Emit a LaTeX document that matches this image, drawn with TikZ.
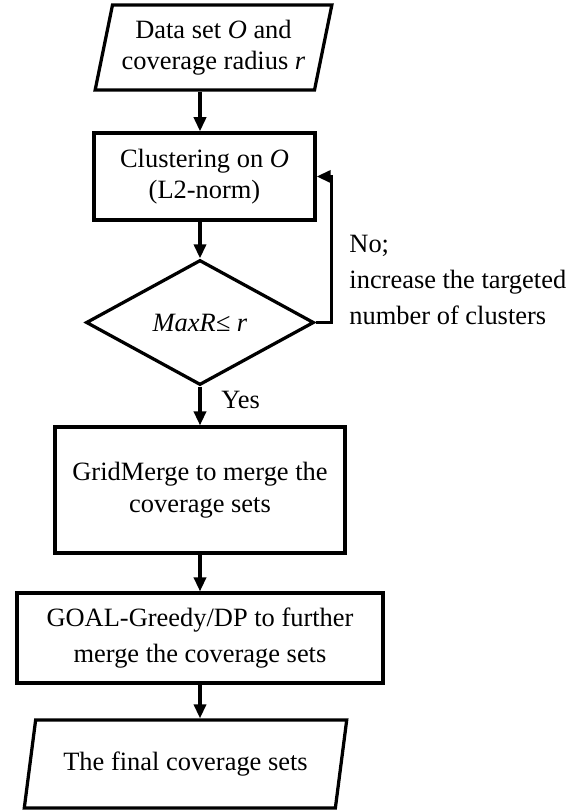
\documentclass[tikz,border=0pt]{standalone}
\usepackage{fontspec}
\setmainfont{Liberation Serif}
\usetikzlibrary{shapes.geometric,arrows.meta,positioning}

\begin{document}
\begin{tikzpicture}[x=0.4615pt, y=-0.4615pt,
        font=\fontsize{12.2}{14.5}\selectfont,
        box/.style={draw, rectangle, align=center, line width=1.5pt, inner sep=2pt},
        para/.style={draw, trapezium, trapezium stretches=true, align=center, line width=1.5pt, inner sep=1pt},
        cond/.style={draw, diamond, line width=1.5pt, inner sep=0pt},
        arr/.style={-{Triangle[length=6.5pt, width=5.6pt]}, line width=1.5pt}]
        \useasboundingbox (0,0) rectangle (570,811);
        \node[para, trapezium left angle=74.9, trapezium right angle=105.1, minimum width=109.4pt, minimum height=39.2pt] (data) at (213.5,47.5) {Data set \textit{O} and\\coverage radius \textit{r}};
        \node[box, minimum width=102pt, minimum height=40.2pt] (clust) at (204.5,176.5) {Clustering on \textit{O}\\(L2-norm)};
        \node[cond, minimum width=105.2pt, minimum height=57.7pt] (dec) at (200,322.5) {\textit{MaxR≤ r}};
        \node[box, minimum width=133.8pt, minimum height=58.1pt] (grid) at (200,490) {GridMerge to merge the\\coverage sets};
        \node[box, minimum width=169pt, minimum height=41.5pt] (goal) at (200,638) {GOAL-Greedy/DP to further\\[2pt]merge the coverage sets};
        \node[para, trapezium left angle=71.8, trapezium right angle=108.2, minimum width=149pt, minimum height=40.6pt] (final) at (185.5,764) {The final coverage sets};
        % branch labels
        \node[anchor=north west, align=left, inner sep=0pt, font=\fontsize{12.2}{16.6}\selectfont] (nolab) at (349,235) {No;\\increase the targeted\\number of clusters};
        \node[anchor=west, inner sep=0pt] (yeslab) at (221,400) {Yes};
        % flow
        \draw[arr] (data.south -| dec.north) -- (clust.north -| dec.north);
        \draw[arr] (clust.south -| dec.north) -- (dec.north);
        \draw[arr] (dec.south) -- (grid.north);
        \draw[arr] (grid.south) -- (goal.north);
        \draw[arr] (goal.south) -- (final.north -| goal.south);
        \draw[arr] (dec.east) -- ++(16,0) |- (clust.east);
    \end{tikzpicture}
\end{document}
